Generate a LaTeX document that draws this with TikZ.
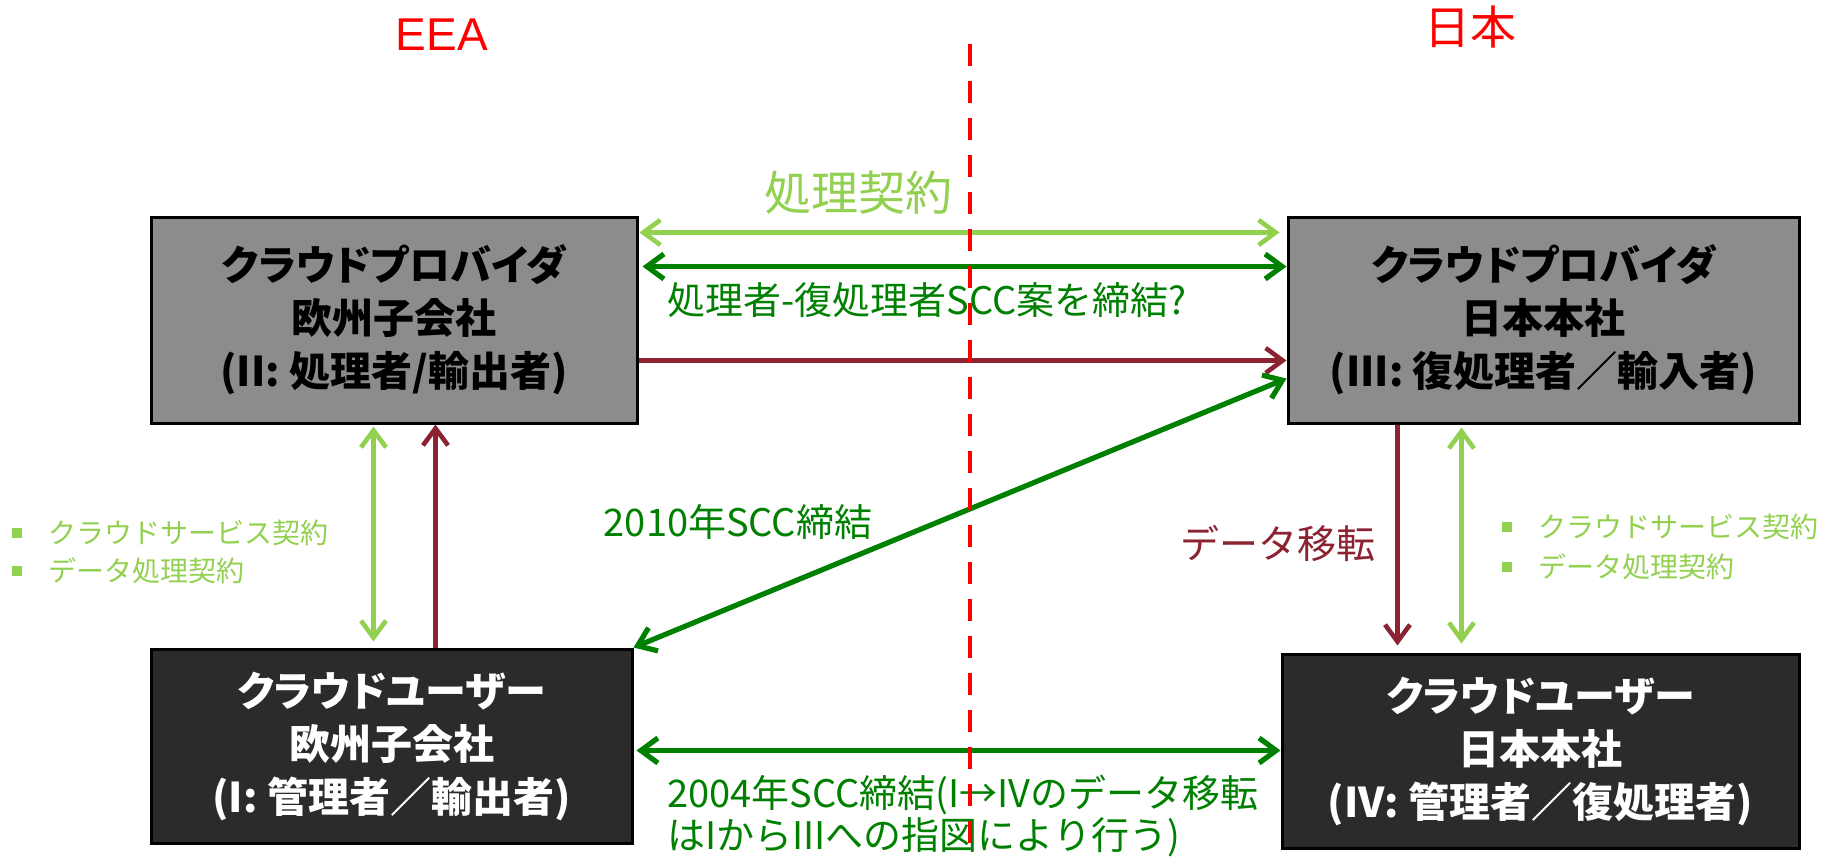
\documentclass[tikz,border=0pt]{standalone}
\usepackage{fontspec}
\setmainfont{Noto Sans CJK JP}
\newfontfamily\jpp{Noto Sans CJK JP}[RawFeature=+palt]
\newfontfamily\lat{Liberation Sans}
\usetikzlibrary{arrows.meta,calc}
\definecolor{lgreen}{HTML}{92D050}
\definecolor{dgreen}{HTML}{008000}
\definecolor{maroon}{HTML}{8B2332}
\definecolor{boxgray}{HTML}{8C8C8C}
\definecolor{boxdark}{HTML}{2B2B2B}
\definecolor{redline}{HTML}{FF0000}
\newcommand{\bul}{\makebox[18pt][l]{\rule[2.8pt]{5pt}{5pt}}}
\begin{document}
\begin{tikzpicture}[x=0.5pt,y=-0.5pt,
  >={Straight Barb[length=8.5pt,width=12.5pt]},
  provbox/.style={draw=black,line width=1.5pt,fill=boxgray,text=black,
    font=\jpp\bfseries\fontsize{20.5}{26.5}\selectfont,align=center,inner sep=0pt},
  userbox/.style={provbox,fill=boxdark,text=white},
  lbl/.style={inner sep=0pt,font=\fontsize{19}{21}\selectfont},
  lgline/.style={lgreen,line width=2.3pt},
  dgline/.style={dgreen,line width=2.6pt},
  mrline/.style={maroon,line width=2.3pt},
  bullets/.style={inner sep=0pt,anchor=west,align=left,text=lgreen,font=\fontsize{14}{19}\selectfont},
  title/.style={inner sep=0pt,text=redline}
]
\useasboundingbox (0,0) rectangle (1837,858);

% boxes
\node[provbox,minimum width=243pt,minimum height=103pt] (II) at (394,320)
  {クラウドプロバイダ\\欧州子会社\\(II: 処理者/輸出者)};
\node[provbox,minimum width=255.5pt,minimum height=103pt] (III) at (1543.5,320)
  {クラウドプロバイダ\\日本本社\\(III: 復処理者／輸入者)};
\node[userbox,minimum width=240.5pt,minimum height=97pt] (I) at (391.5,746)
  {クラウドユーザー\\欧州子会社\\(I: 管理者／輸出者)};
\node[userbox,minimum width=258.5pt,minimum height=97pt] (IV) at (1540.5,751)
  {クラウドユーザー\\日本本社\\(IV: 管理者／復処理者)};

% titles
\node[title,font=\lat\fontsize{23}{27}\selectfont] (eea) at (442,35) {EEA};
\node[title,font=\fontsize{23}{27}\selectfont] (jp) at (1470,27) {日本};

% horizontal connectors
\draw[lgline,<->] ($(II.north east)+(1,17)$) -- ($(III.north west)+(-7,17)$);
\draw[dgline,<->] ($(II.north east)+(4,51)$) -- ($(III.north west)+(0,51)$);
\draw[mrline,->] ($(II.north east)+(0,145)$) -- ($(III.north west)+(0,145)$);
\draw[dgline,<->] (I.north east) -- ($(III.north west)+(0,163)$);
\draw[dgline,<->] ($(I.north east)+(3,103)$) -- ($(IV.north west)+(0,98)$);

% vertical connectors
\draw[lgline,<->] ($(II.south west)+(224,2)$) -- ($(I.north west)+(224,-6)$);
\draw[mrline,->] ($(I.north west)+(286,0)$) -- ($(II.south west)+(286,0)$);
\draw[mrline,->] ($(III.south west)+(111,0)$) -- ($(IV.north west)+(117,-7)$);
\draw[lgline,<->] ($(III.south west)+(175,3)$) -- ($(IV.north west)+(181,-9)$);

% labels
\node[lbl,text=lgreen,font=\fontsize{23.5}{28}\selectfont] (pc) at (858,193) {処理契約};
\node[lbl,text=dgreen,anchor=west] (scc1) at (667,300) {処理者-復処理者SCC案を締結?};
\node[lbl,text=dgreen] (scc2) at (738,522) {2010年SCC締結};
\node[lbl,text=maroon,font=\fontsize{19.5}{22}\selectfont] (dt) at (1278,543) {データ移転};
\node[lbl,text=dgreen,anchor=west,align=left] (scc3) at (667,816)
  {2004年SCC締結(I→IVのデータ移転\\はIからIIIへの指図により行う)};

% bullet lists
\node[bullets] (bl) at (12,551.5) {\bul クラウドサービス契約\\\bul データ処理契約};
\node[bullets,font=\fontsize{14}{20}\selectfont] (br) at (1502,547) {\bul クラウドサービス契約\\\bul データ処理契約};

% border line
\coordinate (dtop) at (970,44);
\coordinate (dbot) at (970,858);
\draw[redline,line width=2pt,dash pattern=on 11pt off 7.5pt] (dtop) -- (dbot);
\end{tikzpicture}
\end{document}
